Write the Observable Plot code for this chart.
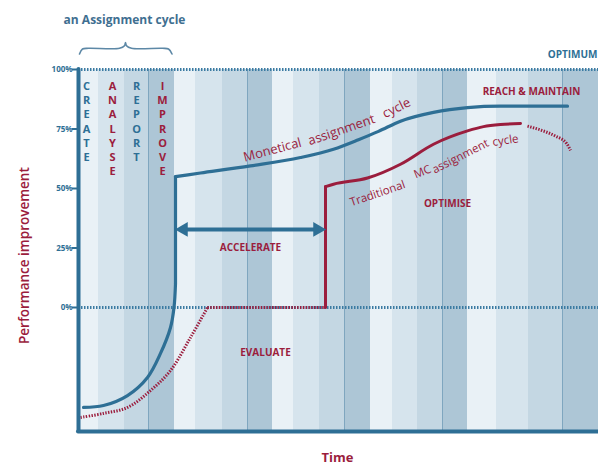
<!DOCTYPE html>
<html>
<head>
<meta charset="utf-8">
<script src="https://cdn.jsdelivr.net/npm/d3@7"></script>
<script src="https://cdn.jsdelivr.net/npm/@observablehq/plot@0.6"></script>
<style>
  html, body { margin: 0; padding: 0; background: #fff; }
  #chart svg { display: block; font-family: "Open Sans", sans-serif; }
</style>
</head>
<body>
<div id="chart"></div>
<script>
// ---- data ----
const stripeEdges = [0, 4, 9.2, 14, 19.2, 23.4, 28.8, 33.8, 38.8, 43, 48.2, 53.2, 58.4, 62.8, 67.8, 72.8, 77.8, 83.6, 90, 96.8, 104];
const stripeShades = ["lightest", "light", "medium", "dark"];
const cycleLines = [14, 33.8, 53.2, 72.8, 96.8];
const phases = ["CREATE", "ANALYSE", "REPORT", "IMPROVE"];
const phaseX = [1.6, 6.8, 11.6, 16.8];
const yTicks = [0, 25, 50, 75, 100];

// Monetical assignment cycle (blue)
const blueRise = [[1, -42], [5, -41.2], [9.8, -37], [13.8, -29.4], [16.4, -19.3], [18.4, -8.4], [19.1, 0], [19.4, 10]];
const blueJump = [[19.4, 10], [19.4, 55]];
const bluePlateau = [[19.4, 55], [24.4, 56.5], [34.4, 59.5], [44.4, 63], [51, 66.5], [56, 70.5], [60, 74], [64.4, 78.3], [71, 82], [77.8, 84], [84.4, 84.6], [97.8, 84.6]];

// Traditional MC assignment cycle (red)
const redRise = [[0.4, -46.2], [5, -44.5], [9.8, -42], [14.4, -34.9], [18.4, -26.5], [22.4, -12.6], [25.8, 0]];
const redWait = [[25.8, 0], [49.4, 0]];
const redJump = [[49.4, 0], [49.4, 50.8]];
const redClimb = [[49.4, 50.8], [51, 51.8], [57.8, 54.4], [64.4, 60.2], [71, 68.6], [77.8, 74.2], [81, 76], [84.4, 76.9], [88.4, 77.3]];
const redDecline = [[89.8, 76.2], [92.4, 74.6], [95.4, 72], [97.6, 69], [98.4, 66]];

const brace = [[0.2, 106.5], [0.8, 108.6], [2, 108.9], [8.2, 108.9], [9.2, 110], [9.4, 111.3], [9.6, 110], [10.6, 108.9], [16.8, 108.9], [18, 108.6], [18.7, 106.5]];

// ---- derived ----
const stripes = stripeEdges.slice(0, -1).map((x1, i) => ({x1, x2: stripeEdges[i + 1], shade: stripeShades[i % 4]}));
const pts = a => a.map(([x, y]) => ({x, y}));

const BLUE = "#2e6f95";
const DOT_BLUE = "#3b7ba2";
const RED = "#9b1d3d";
const DOT = "1.5,1.5";
const RDOT = "1.4,1.4";
const dotted = {stroke: RED, strokeWidth: 3, strokeDasharray: RDOT, strokeLinecap: "butt"};

const chart = Plot.plot({
  width: 598,
  height: 468,
  marginLeft: 78,
  marginRight: 0,
  marginTop: 69,
  marginBottom: 37,
  x: {domain: [0, 104], axis: null},
  y: {domain: [-52.1, 100], axis: null},
  color: {domain: stripeShades, range: ["#e9f1f6", "#d6e4ed", "#c4d7e3", "#adc6d6"]},
  marks: [
    Plot.rect(stripes, {x1: "x1", x2: "x2", fill: "shade"}),
    Plot.ruleX(cycleLines, {stroke: "#7fa6bf", strokeWidth: 1}),
    // dotted reference lines
    Plot.ruleY([100, 0], {stroke: DOT_BLUE, strokeWidth: 3.2, strokeDasharray: DOT}),
    // axis ticks and labels
    Plot.ruleY(yTicks, {x1: -1.2, x2: 0, stroke: BLUE, strokeWidth: 2}),
    Plot.text(yTicks, {x: 0, y: d => d, text: d => d + "%", dx: -6, textAnchor: "end", fill: BLUE, fontSize: 8, fontWeight: "bold", letterSpacing: -0.4}),
    // phases
    Plot.text(phases, {x: (d, i) => phaseX[i], y: 95.8, text: d => d.split("").join("\n"), lineAnchor: "top", lineHeight: 1.3, fill: (d, i) => i % 2 ? RED : BLUE, fontSize: 11, fontWeight: "bold"}),
    // red traditional
    Plot.line(pts(redRise), {x: "x", y: "y", curve: "catmull-rom", ...dotted}),
    Plot.line(pts(redWait), {x: "x", y: "y", ...dotted}),
    Plot.line(pts(redJump), {x: "x", y: "y", stroke: RED, strokeWidth: 3}),
    Plot.line(pts(redClimb), {x: "x", y: "y", curve: "monotone-x", stroke: RED, strokeWidth: 3}),
    Plot.line(pts(redDecline), {x: "x", y: "y", curve: "monotone-x", ...dotted}),
    // blue monetical
    Plot.line(pts(blueRise), {x: "x", y: "y", curve: "catmull-rom", stroke: BLUE, strokeWidth: 3.2, strokeLinecap: "round"}),
    Plot.line(pts(blueJump), {x: "x", y: "y", stroke: BLUE, strokeWidth: 3.2}),
    Plot.line(pts(bluePlateau), {x: "x", y: "y", curve: "monotone-x", stroke: BLUE, strokeWidth: 3.2}),
    // accelerate arrow
    Plot.ruleY([32.8], {x1: 21.5, x2: 47.3, stroke: BLUE, strokeWidth: 4}),
    Plot.dot([{x: 21, r: -90}, {x: 47.8, r: 90}], {x: "x", y: 32.8, rotate: "r", symbol: "triangle", r: 5.5, fill: BLUE, stroke: "none"}),
    // axes frame
    Plot.ruleX([0], {stroke: BLUE, strokeWidth: 4, strokeLinecap: "round"}),
    Plot.ruleY([-52.1], {stroke: BLUE, strokeWidth: 4, strokeLinecap: "round"}),
    // brace and labels outside
    Plot.line(pts(brace), {x: "x", y: "y", curve: "catmull-rom", stroke: "#5d88a6", strokeWidth: 1.6}),
    Plot.text(["an Assignment cycle"], {x: 9.2, y: 120.8, fill: "#3f6f91", fontSize: 12, fontWeight: "bold", letterSpacing: -0.5}),
    Plot.text(["OPTIMUM"], {x: 103.8, y: 106.3, textAnchor: "end", fill: BLUE, fontSize: 10, fontWeight: "bold", letterSpacing: -0.3}),
    Plot.text(["REACH & MAINTAIN"], {x: 90.6, y: 90.8, fill: RED, fontSize: 10, fontWeight: "bold", letterSpacing: -0.5}),
    Plot.text(["ACCELERATE"], {x: 34.4, y: 25.2, fill: RED, fontSize: 10, fontWeight: "bold", letterSpacing: -0.5}),
    Plot.text(["OPTIMISE"], {x: 73.8, y: 43.7, fill: RED, fontSize: 10, fontWeight: "bold", letterSpacing: -0.5}),
    Plot.text(["EVALUATE"], {x: 37.4, y: -18.9, fill: RED, fontSize: 10, fontWeight: "bold", letterSpacing: -0.7}),
    // curve labels
    Plot.text([
      {t: "Monetical", x: 38.8, y: 66.2, r: -15},
      {t: "assignment", x: 52.6, y: 74.6, r: -19},
      {t: "cycle", x: 63.6, y: 83.8, r: -26}
    ], {x: "x", y: "y", text: "t", rotate: "r", fill: RED, fontSize: 13, letterSpacing: -0.5}),
    Plot.text([
      {t: "Traditional", x: 59.8, y: 47.9, r: -19},
      {t: "MC", x: 68.8, y: 57, r: -22},
      {t: "assignment", x: 76.4, y: 63.5, r: -27},
      {t: "cycle", x: 85.4, y: 70.2, r: -8}
    ], {x: "x", y: "y", text: "t", rotate: "r", fill: RED, fontSize: 11.5, letterSpacing: -0.4}),
    // axis titles
    Plot.text(["Time"], {x: 51.8, y: -63.2, fill: RED, fontSize: 13, fontWeight: "bold", letterSpacing: -0.3}),
    Plot.text(["Performance improvement"], {x: -10.8, y: 21.8, rotate: -90, fill: RED, fontSize: 13.5, fontWeight: 600, letterSpacing: -0.2})
  ]
});
document.getElementById("chart").append(chart);
</script>
</body>
</html>
